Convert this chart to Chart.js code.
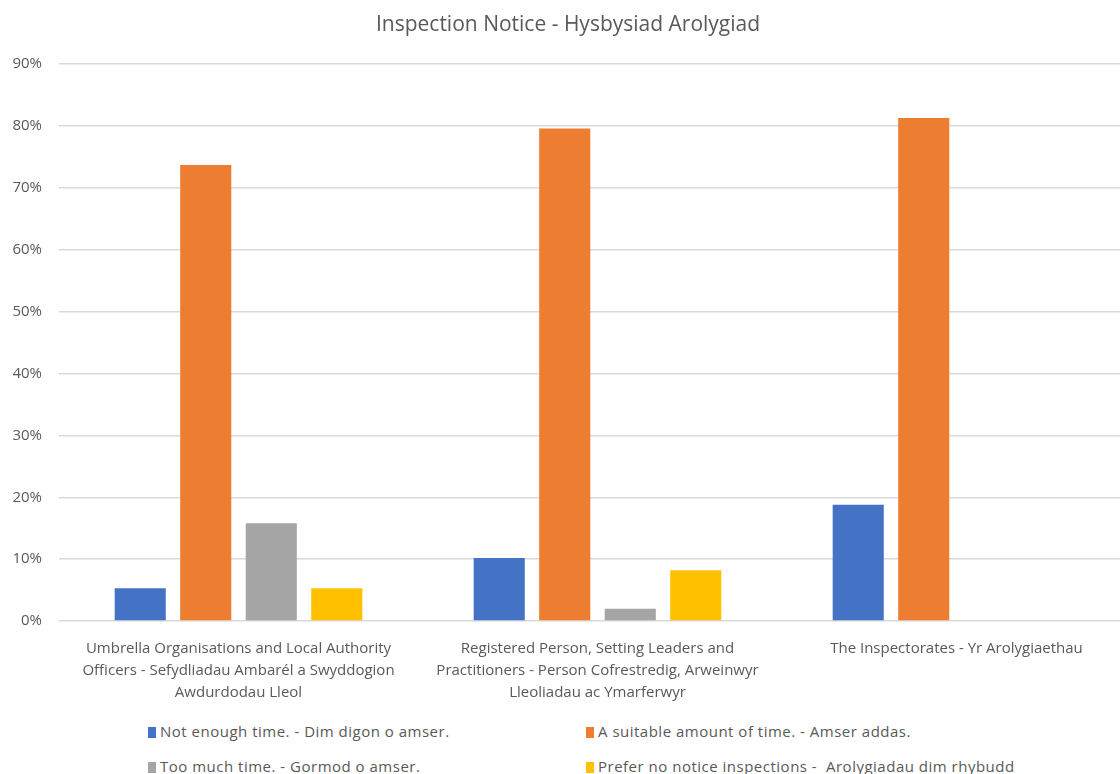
<!DOCTYPE html>
<html>
<head>
<meta charset="utf-8">
<script src="https://cdn.jsdelivr.net/npm/chart.js@4"></script>
<style>
  html, body { margin: 0; padding: 0; background: #fff; overflow: hidden; }
  #wrap { position: relative; width: 1136px; height: 774px; }
  #chartBox { position: absolute; left: 0; top: 0; width: 1136px; height: 720px; }
  .legend { position: absolute; font-family: "Open Sans", sans-serif; font-size: 15px; line-height: 20px; letter-spacing: 0.5px; color: #595959; white-space: pre; }
  .legend i { display: inline-block; width: 8px; height: 11px; margin-right: 4px; vertical-align: -1px; }
</style>
</head>
<body>
<div id="wrap">
  <div id="chartBox"><canvas id="myBarChart"></canvas></div>
  <div id="legend"></div>
</div>
<script>
const title = 'Inspection Notice - Hysbysiad Arolygiad';

const categories = [
  ['Umbrella Organisations and Local Authority', 'Officers - Sefydliadau Ambarél a Swyddogion', 'Awdurdodau Lleol'],
  ['Registered Person, Setting Leaders and', 'Practitioners - Person Cofrestredig, Arweinwyr', 'Lleoliadau ac Ymarferwyr'],
  ['The Inspectorates - Yr Arolygiaethau']
];

const seriesNames = [
  'Not enough time. - Dim digon o amser.',
  'A suitable amount of time. - Amser addas.',
  'Too much time. - Gormod o amser.',
  'Prefer no notice inspections -  Arolygiadau dim rhybudd'
];

// percentages per category
const notEnough = [5.3, 10.2, 18.8];
const suitable = [73.7, 79.6, 81.3];
const tooMuch = [15.8, 2.0, 0];
const noNotice = [5.3, 8.2, 0];

const yTicks = [0, 10, 20, 30, 40, 50, 60, 70, 80, 90];

const colors = ['#4472C4', '#ED7D31', '#A5A5A5', '#FFC000'];
const textColor = '#595959';
const fontFamily = '"Open Sans", sans-serif';

function createDataset(label, data, color) {
  return {
    label,
    data,
    backgroundColor: color,
    borderWidth: 0,
    barPercentage: 0.78,
    categoryPercentage: 0.73
  };
}

const allSeries = [notEnough, suitable, tooMuch, noNotice];
const data = {
  labels: categories,
  datasets: allSeries.map((s, i) => createDataset(seriesNames[i], s, colors[i]))
};

const options = {
  responsive: true,
  maintainAspectRatio: false,
  animation: false,
  layout: { padding: 0 },
  plugins: {
    legend: { display: false },
    tooltip: { enabled: false },
    title: {
      display: true,
      text: title,
      color: textColor,
      font: { family: fontFamily, size: 21, weight: 'normal' },
      padding: { top: 12, bottom: 27 }
    }
  },
  scales: {
    x: {
      grid: { display: false },
      border: { display: false },
      ticks: {
        color: textColor,
        font: { family: fontFamily, size: 15, lineHeight: 1.45 },
        padding: 9,
        maxRotation: 0,
        autoSkip: false
      },
      afterFit(scale) { scale.height = 99; }
    },
    y: {
      min: 0,
      max: 90,
      afterBuildTicks(scale) { scale.ticks = yTicks.map(v => ({ value: v })); },
      grid: { color: '#d9d9d9', lineWidth: 1.5, drawTicks: false },
      border: { display: false },
      ticks: {
        color: textColor,
        font: { family: fontFamily, size: 15 },
        padding: 17,
        callback: v => v + '%'
      },
      afterFit(scale) { scale.width = 59; }
    }
  }
};

const ctx = document.getElementById('myBarChart').getContext('2d');
new Chart(ctx, { type: 'bar', data, options });

// two-column legend underneath, like the spreadsheet one
const legendBox = document.getElementById('legend');
const legendPos = [[148, 721], [586, 721], [148, 756], [586, 756]];
seriesNames.forEach((name, i) => {
  const item = document.createElement('div');
  item.className = 'legend';
  item.style.left = legendPos[i][0] + 'px';
  item.style.top = legendPos[i][1] + 'px';
  item.innerHTML = `<i style="background:${colors[i]}"></i>`;
  item.appendChild(document.createTextNode(name));
  legendBox.appendChild(item);
});
</script>
</body>
</html>
